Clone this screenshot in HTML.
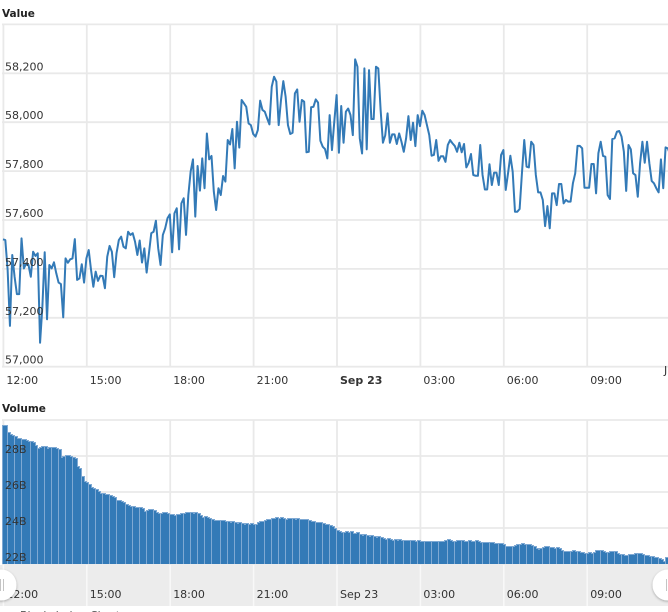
<!DOCTYPE html>
<html lang="en">
<head>
<meta charset="utf-8">
<title>Value and Volume Chart</title>
<style>
html,body{margin:0;padding:0;background:#fff;width:668px;height:612px;overflow:hidden}
svg{display:block;position:absolute;left:0;top:0}
text{font-family:"DejaVu Sans","Liberation Sans",sans-serif;font-size:11px;fill:#333}
</style>
</head>
<body>
<svg id="chart" width="668" height="612" viewBox="0 0 668 612" xmlns="http://www.w3.org/2000/svg">
  <defs>
    <filter id="handle-shadow" x="-30%" y="-30%" width="160%" height="160%">
      <feDropShadow dx="0" dy="1" stdDeviation="1.2" flood-color="#000" flood-opacity="0.3"/>
    </filter>
  </defs>
  <text x="2" y="17" font-weight="bold" style="font-size:10.5px;fill:#222">Value</text>
  <text x="2" y="412" font-weight="bold" style="font-size:10.5px;fill:#222">Volume</text>
  <rect x="0" y="565" width="668" height="41" fill="#ececec"/>
  <g id="grid"></g>
  <g id="volume-bars"></g>
  <g id="line-layer"></g>
  <g id="labels"></g>
  <text x="664" y="374">J</text>
  <circle cx="1" cy="585" r="15.5" fill="#fff" filter="url(#handle-shadow)"/>
  <rect x="0" y="579" width="1" height="12" fill="#c4c4c4"/>
  <rect x="3" y="579" width="1" height="12" fill="#c4c4c4"/>
  <circle cx="668" cy="585" r="15.5" fill="#fff" filter="url(#handle-shadow)"/>
  <rect x="666" y="579" width="1" height="12" fill="#c4c4c4"/>
  <text x="20" y="619" style="fill:#555">Blockchain</text>
  <text x="90" y="619" style="fill:#555">Chart</text>
</svg>
<script>
const valueSeries = [
57521,57518,57396,57167,57457,57368,57297,57297,57525,57402,
57423,57416,57368,57470,57453,57464,57098,57246,57468,57194,
57416,57402,57427,57382,57344,57338,57202,57443,57425,57439,
57443,57522,57355,57361,57419,57344,57443,57477,57396,57327,
57389,57351,57372,57371,57321,57450,57494,57470,57366,57464,
57518,57532,57491,57484,57552,57539,57546,57511,57457,57516,
57426,57484,57385,57464,57546,57552,57597,57484,57416,57539,
57566,57607,57623,57468,57627,57648,57480,57668,57689,57539,
57702,57798,57848,57614,57821,57720,57852,57730,57954,57848,
57862,57716,57641,57730,57702,57780,57757,57927,57909,57972,
57811,58002,57896,58091,58077,58063,57995,57988,57952,57941,
57968,58088,58050,58043,58016,57991,58145,58186,58166,57988,
58091,58168,58104,57988,57952,57957,58118,58134,58002,58091,
58084,57877,57879,58061,58063,58093,58080,57924,57900,57890,
57852,58029,57886,58002,58111,57875,58066,57916,58043,58056,
58029,57947,58257,58227,57934,57872,58220,57889,58213,58013,
58013,58227,58220,58050,57916,57947,58036,57916,57950,57950,
57911,57954,57920,57879,57934,58025,57927,57998,57902,58029,
57984,58047,58029,57988,57947,57863,57866,57927,57842,57861,
57861,57838,57907,57927,57914,57903,57879,57916,57877,57911,
57815,57834,57870,57784,57781,57781,57907,57784,57725,57725,
57828,57743,57794,57794,57743,57866,57886,57723,57791,57863,
57798,57634,57634,57645,57791,57927,57818,57815,57920,57907,
57784,57713,57713,57682,57575,57657,57566,57709,57709,57661,
57747,57747,57668,57682,57675,57675,57750,57791,57903,57903,
57893,57732,57732,57732,57829,57829,57709,57873,57920,57862,
57859,57702,57686,57931,57934,57961,57964,57941,57879,57719,
57907,57889,57791,57784,57695,57832,57920,57834,57920,57832,
57760,57750,57730,57713,57848,57730,57897,57893,57866
];
const volumeSeries = [
29.68,29.68,29.26,29.17,29.11,29.04,28.94,28.92,28.89,28.87,
28.83,28.80,28.76,28.70,28.57,28.41,28.42,28.50,28.52,28.41,
28.42,28.46,28.44,28.39,28.33,27.87,27.96,27.98,27.98,27.96,
27.89,27.85,27.41,27.26,26.81,26.57,26.52,26.39,26.24,26.18,
26.11,26.00,25.91,25.87,25.85,25.83,25.80,25.72,25.67,25.52,
25.48,25.42,25.39,25.30,25.22,25.18,25.15,25.11,25.09,25.09,
25.07,24.87,24.94,24.98,25.02,24.94,24.83,24.78,24.80,24.81,
24.81,24.80,24.74,24.70,24.68,24.70,24.74,24.78,24.80,24.83,
24.85,24.81,24.78,24.81,24.80,24.65,24.57,24.59,24.55,24.50,
24.44,24.41,24.39,24.39,24.39,24.37,24.35,24.34,24.30,24.32,
24.28,24.25,24.26,24.22,24.18,24.20,24.17,24.20,24.14,24.16,
24.30,24.33,24.32,24.38,24.43,24.47,24.48,24.52,24.56,24.50,
24.54,24.50,24.47,24.50,24.52,24.49,24.46,24.48,24.44,24.42,
24.46,24.42,24.38,24.34,24.36,24.30,24.26,24.28,24.22,24.18,
24.16,24.10,24.06,23.92,23.82,23.78,23.72,23.74,23.78,23.72,
23.76,23.68,23.66,23.70,23.60,23.58,23.62,23.56,23.52,23.54,
23.48,23.45,23.48,23.42,23.38,23.36,23.38,23.32,23.30,23.32,
23.30,23.32,23.30,23.26,23.26,23.28,23.27,23.26,23.24,23.26,
23.24,23.22,23.24,23.24,23.21,23.23,23.22,23.21,23.23,23.22,
23.24,23.27,23.31,23.26,23.22,23.22,23.26,23.26,23.26,23.22,
23.24,23.26,23.22,23.24,23.26,23.24,23.17,23.15,23.15,23.18,
23.18,23.17,23.13,23.09,23.09,23.11,23.04,22.96,22.93,22.93,
22.94,22.98,23.04,23.07,23.09,23.05,23.04,23.04,23.02,22.93,
22.81,22.79,22.83,22.89,22.93,22.93,22.89,22.87,22.83,22.87,
22.85,22.70,22.67,22.67,22.67,22.68,22.70,22.68,22.65,22.63,
22.61,22.55,22.57,22.59,22.57,22.59,22.70,22.74,22.72,22.68,
22.59,22.63,22.65,22.65,22.65,22.53,22.52,22.52,22.46,22.46,
22.50,22.52,22.52,22.53,22.57,22.55,22.48,22.42,22.42,22.39,
22.37,22.35,22.31,22.29,22.22,22.13,22.35,22.33,22.33
];
const valueTicks = [57000,57200,57400,57600,57800,58000,58200,58400];
const volumeTicks = [22,24,26,28,30];
const hourTicks = [0,3,6,9,12,15,18,21];
const hourLabels = ['12:00','15:00','18:00','21:00','Sep 23','03:00','06:00','09:00'];

const SVG_NS = 'http://www.w3.org/2000/svg';
function xHours(h){ return 3.4 + h * 27.8; }
function xIndex(i){ return 3 + (i * 5 / 60) * 27.8; }
function yValue(v){ return 366.7 - (v - 57000) * 0.2445; }
function yVolume(b){ return 564 - (b - 22) * 18; }
function make(tag, parent){
  const el = document.createElementNS(SVG_NS, tag);
  parent.appendChild(el);
  return el;
}
const grid = document.getElementById('grid');
const barsLayer = document.getElementById('volume-bars');
const lineLayer = document.getElementById('line-layer');
const labels = document.getElementById('labels');
const GRID = '#e9e9e9';

function gridLine(x1, y1, x2, y2, color, width){
  const l = make('line', grid);
  l.setAttribute('x1', x1);
  l.setAttribute('y1', y1);
  l.setAttribute('x2', x2);
  l.setAttribute('y2', y2);
  l.setAttribute('stroke', color);
  l.setAttribute('stroke-width', width);
  
  
}
valueTicks.forEach(function(v){
  gridLine(2, yValue(v), 668, yValue(v), GRID, 1.8);
  if (v < 58400) {
    const t = make('text', labels);
    t.setAttribute('x', 5);
    t.setAttribute('y', yValue(v) - 3);
    
    
    t.textContent = v.toLocaleString('en-US');
  }
});
volumeTicks.forEach(function(b){
  gridLine(2, yVolume(b), 668, yVolume(b), GRID, 1.8);
  if (b < 30) {
    const t = make('text', labels);
    t.setAttribute('x', 5);
    t.setAttribute('y', yVolume(b) - 3);
    
    
    t.textContent = b + 'B';
  }
});
hourTicks.forEach(function(h, i){
  const x = xHours(h);
  gridLine(x, 25, x, 367, GRID, 1.8);
  gridLine(x, 420, x, 564, GRID, 1.8);
  gridLine(x, 565, x, 606, '#f8f8f8', 1.6);

  const top = make('text', labels);
  top.setAttribute('x', x + 3);
  top.setAttribute('y', 384);
  if (hourLabels[i] === 'Sep 23') {
    top.setAttribute('font-weight', 'bold');
  }
  
  
  top.textContent = hourLabels[i];

  const nav = make('text', labels);
  nav.setAttribute('x', x + 3);
  nav.setAttribute('y', 598);
  
  
  nav.textContent = hourLabels[i];
});

volumeSeries.forEach(function(b, i){
  const x = Math.round(xIndex(i));
  const y = Math.round(yVolume(b));
  const back = make('rect', barsLayer);
  back.setAttribute('x', x - 1);
  back.setAttribute('y', y - 1);
  back.setAttribute('width', 4);
  back.setAttribute('height', 564 - y + 1);
  back.setAttribute('fill', '#7fa9d3');
  back.setAttribute('shape-rendering', 'crispEdges');
  
  
});
volumeSeries.forEach(function(b, i){
  const x = Math.round(xIndex(i));
  const y = Math.round(yVolume(b));
  const bar = make('rect', barsLayer);
  bar.setAttribute('x', x);
  bar.setAttribute('y', y);
  bar.setAttribute('width', 2);
  bar.setAttribute('height', 564 - y);
  bar.setAttribute('fill', '#337ab7');
  bar.setAttribute('shape-rendering', 'crispEdges');
  
  
});

const pathData = valueSeries.map(function(v, i){
  return (i ? 'L' : 'M') + xIndex(i).toFixed(2) + ' ' + yValue(v).toFixed(2);
}).join(' ');
const line = make('path', lineLayer);
line.setAttribute('d', pathData);
line.setAttribute('fill', 'none');
line.setAttribute('stroke', '#337ab7');
line.setAttribute('stroke-width', 2);
line.setAttribute('stroke-linejoin', 'round');


</script>
</body>
</html>
